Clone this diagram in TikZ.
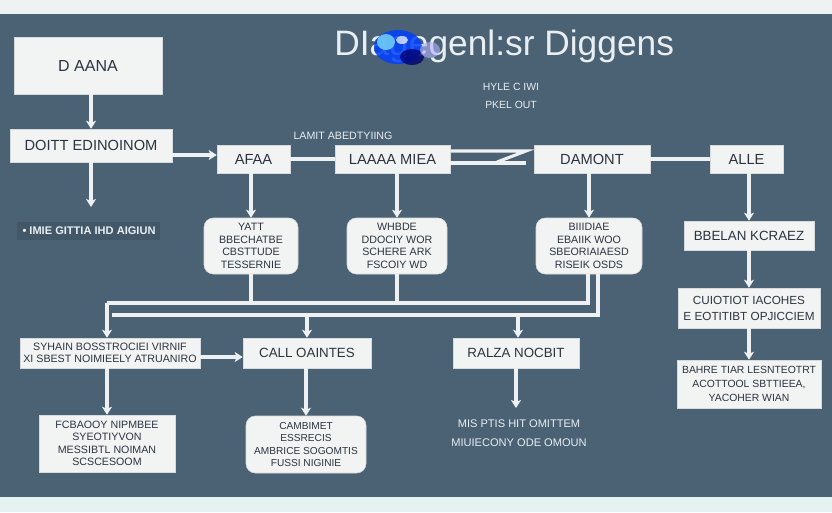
\documentclass[tikz,border=0pt]{standalone}
\usepackage{fontspec}
\setmainfont{Liberation Sans}
\usetikzlibrary{arrows.meta,calc}
\definecolor{bg}{HTML}{4A6274}
\definecolor{topband}{HTML}{EEF2F2}
\definecolor{botband}{HTML}{E6F2F2}
\definecolor{boxfill}{HTML}{F2F3F3}
\definecolor{boxline}{HTML}{D6DADC}
\definecolor{txt}{HTML}{2B3440}
\definecolor{wline}{HTML}{EEF1F3}
\definecolor{ltxt}{HTML}{E8EEF2}
\begin{document}
\begin{tikzpicture}[x=0.75pt,y=-0.75pt,
  wh/.style 2 args={minimum width=#1*0.75pt, minimum height=#2*0.75pt},
  box/.style={draw=boxline, fill=boxfill, text=txt, inner sep=0pt, align=center,
    font=\fontsize{11}{12}\selectfont},
  box3/.style={box, font=\fontsize{10}{12}\selectfont},
  rbox/.style={box, rounded corners=7pt, font=\fontsize{8}{9.4}\selectfont},
  mbox/.style={box, font=\fontsize{8}{9.4}\selectfont},
  conn/.style={draw=wline, line width=2.3pt},
  arr/.style={conn, -{Stealth[length=6pt,width=7.5pt,inset=1.5pt]}},
  lbl/.style={text=ltxt, inner sep=0pt, align=center, font=\fontsize{8.3}{14}\selectfont\bfseries}]
\useasboundingbox (0,0) rectangle (832,512);
\fill[topband] (0,0) rectangle (832,14);
\fill[bg] (0,14) rectangle (832,497);
\fill[botband] (0,497) rectangle (832,512);

% title
\node[anchor=west, text=ltxt, inner sep=0pt, font=\fontsize{26.5}{28}\selectfont] (title) at (334,46) {DIagegenl:sr Diggens};
\fill[blue!75!cyan, opacity=0.85] (398,47) ellipse [x radius=24, y radius=17];
\fill[cyan!55!white, opacity=0.85] (386,42) ellipse [x radius=9, y radius=8];
\fill[blue!45!black, opacity=0.8] (412,57) ellipse [x radius=12, y radius=8];
\fill[white, opacity=0.7] (402,40) ellipse [x radius=6, y radius=4];
\fill[blue!30!white, opacity=0.6] (430,50) ellipse [x radius=10, y radius=8];
\node[lbl, font=\fontsize{7.8}{14}\selectfont] (sub) at (511,96) {HYLE C IWI\\PKEL OUT};

% row 1
\node[box, wh={148}{57}, font=\fontsize{12}{14}\selectfont] (a) at (88,65.5) {D AANA};
\node[box, wh={162}{33}] (b) at (91,145.5) {DOITT EDINOINOM};
\coordinate (bd) at (91,207);
\fill[bg!80!black, opacity=0.5] (17,222) rectangle (160,240);
\node[lbl] (n1) at (89,231) {• IMIE GITTIA IHD AIGIUN};

\node[box, wh={73}{28}] (c) at (253.5,159) {AFAA};
\node[box, wh={115}{28}] (d) at (392.5,159) {LAAAA MIEA};
\node[box, wh={116}{28}] (e) at (592,159) {DAMONT};
\node[box, wh={73}{28}] (f) at (746.5,159) {ALLE};
\node[lbl, font=\fontsize{8}{14}\selectfont] (l1) at (343,136) {LAMIT ABEDTYIING};

% rounded row
\node[rbox, wh={94}{56}] (r1) at (251,246) {YATT\\BBECHATBE\\CBSTTUDE\\TESSERNIE};
\node[rbox, wh={100}{56}] (r2) at (397,246) {WHBDE\\DDOCIY WOR\\SCHERE ARK\\FSCOIY WD};
\node[rbox, wh={106}{56}] (r3) at (589,246) {BIIIDIAE\\EBAIIK WOO\\SBEORIAIAESD\\RISEIK OSDS};
\node[box3, wh={130}{29}] (g) at (749,235.5) {BBELAN KCRAEZ};

% row 3
\node[mbox, wh={180}{30}] (j) at (110,353) {SYHAIN BOSSTROCIEI VIRNIF\\XI SBEST NOIMIEELY ATRUANIRO};
\node[box3, wh={128}{30}] (k) at (307,353) {CALL OAINTES};
\node[box3, wh={126}{30}] (l) at (516,353) {RALZA NOCBIT};
\node[mbox, wh={142}{40}, font=\fontsize{8.8}{12}\selectfont] (h) at (749,308) {CUIOTIOT IACOHES\\E EOTITIBT OPJICCIEM};
\node[mbox, wh={144}{48}, font=\fontsize{7.8}{10.5}\selectfont] (i) at (749,384) {BAHRE TIAR LESNTEOTRT\\ACOTTOOL SBTTIEEA,\\YACOHER WIAN};

% row 4
\node[mbox, wh={136}{57}] (m) at (107,443.5) {FCBAOOY NIPMBEE\\SYEOTIYVON\\MESSIBTL NOIMAN\\SCSCESOOM};
\node[rbox, wh={120}{57}, font=\fontsize{7.6}{9.4}\selectfont] (n) at (306,444.5) {CAMBIMET\\ESSRECIS\\AMBRICE SOGOMTIS\\FUSSI NIGINIE};
\coordinate (ld) at (516,408);
\node[lbl, font=\fontsize{8.3}{14.5}\selectfont] (n2) at (519,433) {MIS PTIS HIT OMITTEM\\MIUIECONY ODE OMOUN};

% connectors
\draw[arr] (b.north |- a.south) -- (b.north);
\draw[arr] (b.south) -- (bd);
\draw[arr] (b.east |- 0,155) -- (c.west |- 0,155);
\draw[conn, line width=3pt] (c.east) -- (d.west);
\draw[conn] (d.east |- 0,151) -- (526,151) -- (497,162);
\draw[conn] (d.east |- 0,163) -- (526,163);
\draw[conn, line width=3pt] (e.east) -- (f.west);
\draw[arr] (r1.north |- c.south) -- (r1.north);
\draw[arr] (r2.north |- d.south) -- (r2.north);
\draw[arr] (r3.north |- e.south) -- (r3.north);
\draw[arr] (g.north |- f.south) -- (g.north);
\coordinate (bus1) at (107,303);
\coordinate (bus2) at (112,315);
\draw[conn] (r1.south) -- (r1.south |- bus1);
\draw[conn] (r2.south) -- (r2.south |- bus1);
\draw[conn] (r3.south -| 588,0) |- (bus1);
\draw[conn] (r3.south -| 598,0) |- (bus2);
\draw[arr] (bus1) -- (bus1 |- j.north);
\draw[arr] (k.north |- bus2) -- (k.north);
\draw[arr] (518,315) -- (l.north -| 518,0);
\draw[arr] (j.east |- 0,357) -- (k.west |- 0,357);
\draw[arr] (g.south) -- (h.north);
\draw[arr] (h.south) -- (i.north);
\draw[arr] (j.south -| m.north) -- (m.north);
\draw[arr] (n.north |- k.south) -- (n.north);
\draw[arr] (l.south) -- (ld);
\end{tikzpicture}
\end{document}
